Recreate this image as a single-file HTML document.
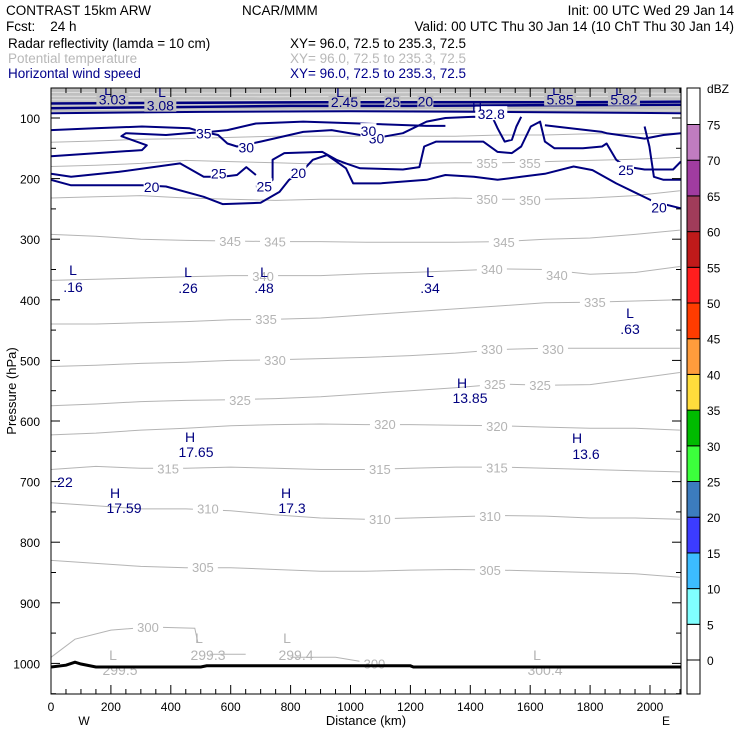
<!DOCTYPE html>
<html><head><meta charset="utf-8"><style>
html,body{margin:0;padding:0;background:#fff}
svg{display:block}
text{font-family:"Liberation Sans",sans-serif}
</style></head><body>
<svg id="chart" width="740" height="740" viewBox="0 0 740 740" xmlns="http://www.w3.org/2000/svg">
<g font-size="13.5">
<text x="6" y="15">CONTRAST 15km ARW</text>
<text x="242" y="15">NCAR/MMM</text>
<text x="734" y="15" text-anchor="end">Init: 00 UTC Wed 29 Jan 14</text>
<text x="6" y="31" xml:space="preserve">Fcst:    24 h</text>
<text x="734" y="31" text-anchor="end">Valid: 00 UTC Thu 30 Jan 14 (10 ChT Thu 30 Jan 14)</text>
<text x="8" y="48">Radar reflectivity (lamda = 10 cm)</text>
<text x="290" y="48">XY=  96.0, 72.5 to 235.3, 72.5</text>
<text x="8" y="63" fill="#b8b8b8">Potential temperature</text>
<text x="290" y="63" fill="#b8b8b8">XY=  96.0, 72.5 to 235.3, 72.5</text>
<text x="8" y="78" fill="#00008b">Horizontal wind speed</text>
<text x="290" y="78" fill="#00008b">XY=  96.0, 72.5 to 235.3, 72.5</text>
</g>
<g id="plot"></g>
<g id="axes"></g>
<g id="cbar"></g>
</svg>
<script>
const NS="http://www.w3.org/2000/svg";
const X0=51,X1=681,Y0=88,Y1=694;
const kmMax=2103,pTop=50.5;
function sx(km){return X0+km*0.2995;}
function sy(p){return 118+(p-100)*0.606;}
const xsKm=[0,150,300,450,600,750,900,1050,1200,1350,1500,1650,1800,1950,2100];
const thetaLevels=[305,310,315,320,325,330,335,340,345,350,355,360];
const theta305=[830,835,840,842,842,845,848,848,846,845,846,848,850,852,858];
const theta310=[735,740,745,745,748,755,760,762,760,758,756,757,760,760,762];
const theta315=[680,675,678,678,676,678,680,680,678,676,676,678,680,682,684];
const theta320=[623,620,615,612,608,606,605,606,606,607,608,610,612,612,615];
const theta325=[575,572,568,566,565,563,560,555,550,545,539,541,540,530,520];
const theta330=[510,508,505,503,500,499,497,495,492,488,482,480,480,480,480];
const theta335=[440,440,438,436,433,432,430,425,420,415,410,405,404,402,400];
const theta340=[368,366,364,362,360,360,360,357,355,352,349,350,358,355,345];
const theta345=[292,295,300,302,303,304,304,305,305,305,304,300,298,292,285];
const theta350=[232,230,228,232,234,236,234,234,234,232,234,234,232,228,220];
const theta355=[180,178,175,170,172,174,176,175,175,174,174,172,170,168,165];
const theta360=[140,138,135,134,132,130,130,130,130,130,128,128,126,126,125];
const thetaSeries=[theta305,theta310,theta315,theta320,theta325,theta330,theta335,theta340,theta345,theta350,theta355,theta360];
const theta300a=[[0,990],[80,960],[200,945],[330,940],[480,942],[490,965]];
const theta300b=[[530,985],[650,985]];
const theta300c=[[800,990],[950,990],[1050,998],[1100,1010]];
const thetaLabels=[["305",507,841],["305",1466,846],["310",524,744],["310",1098,762],["310",1466,757],["315",391,678],["315",1098,679],["315",1489,677],["320",1115,605],["320",1489,608],["325",631,565],["325",1482,539],["325",1633,541],["330",748,499],["330",1472,481],["330",1676,481],["335",718,432],["335",1816,404],["340",708,361],["340",1472,349],["340",1689,359],["345",598,303],["345",748,304],["345",1512,305],["350",1456,234],["350",1599,235],["355",1456,174],["355",1599,174],["300",324,940],["300",1080,1000]];
const wind20=[[0,202],[67,211],[304,211],[384,213],[510,230],[573,242],[700,240],[763,222],[795,202],[842,186],[874,169],[922,161],[953,172],[985,183],[1009,208],[1096,208],[1254,202],[1317,194],[1412,197],[1491,202],[1570,197],[1649,192],[1745,180],[1808,186],[1887,208],[2013,238],[2103,249]];
const wind25a=[[0,192],[67,197],[225,189],[431,175],[510,197],[573,197],[621,194],[652,181],[684,194]];
const wind25b=[[684,213],[716,212],[740,202],[740,169],[779,158],[906,156],[953,169],[985,175],[1032,183],[1175,185],[1230,181],[1246,147],[1286,139],[1443,139],[1491,156],[1539,158],[1570,147],[1602,114],[1633,106],[1649,139],[1681,150],[1776,150],[1840,147],[1855,142],[1887,169],[1919,180],[1982,185],[2077,185],[2103,172]];
const wind25c=[[1982,114],[1998,147],[2013,197],[2045,202],[2103,202]];
const wind30a=[[0,163],[304,153],[320,145],[235,130],[250,125],[384,128],[510,123],[558,128],[589,142],[621,147],[700,139],[842,123],[937,120],[1032,128],[1096,132],[1175,125],[1254,106],[1317,100],[1412,98],[1475,100],[1491,117],[1515,139],[1539,136],[1554,114],[1570,98]];
const wind30b=[[1649,112],[1840,123],[1855,125],[1982,134],[2045,128],[2103,125]];
const wind35=[[0,120],[146,117],[304,114],[463,117],[510,124],[589,120],[684,109],[842,106],[1032,109],[1254,113],[1317,113]];
const windTop1=[[0,76],[500,75],[900,74],[1300,74],[1700,74],[2103,73]];
const windTop2=[[0,84],[400,82],[800,80],[1200,80],[1600,79],[2103,78]];
const windTop3=[[0,92],[500,90],[1000,89],[1500,90],[2103,92]];
const windLabels=[["20",336,212],["20",826,189],["20",2030,246],["25",560,190],["25",712,211],["25",1920,184],["30",652,147],["30",1087,132],["30",1060,120],["35",510,124],["32.8",1470,92],["2.45",980,72],["25",1140,72],["20",1250,71],["3.03",205,68],["3.08",365,78],["5.85",1700,68],["5.82",1913,68]];
const extremaLetters=[["L",73,270],["L",188,272],["L",264,272],["L",430,272],["L",630,313],["H",462,383],["H",190,437],["H",577,438],["H",115,493],["H",286,493],["L",108,90],["L",162,92],["L",340,92],["H",477,106],["L",556,90],["L",619,90]];
const extremaValues=[[".16",73,287],[".26",188,288],[".48",264,288],[".34",430,288],[".63",630,329],["13.85",470,398],["17.65",196,452],["13.6",586,454],[".22",63,482],["17.59",124,508],["17.3",292,508]];
const groundLetters=[["L",113,655],["L",199,638],["L",287,638],["L",537,655]];
const groundValues=[["299.5",120,670],["299.3",208,655],["299.4",296,655],["300.4",545,670]];
const terrainKm=[0,50,80,100,150,500,520,1000,1200,1210,2103];
const terrainP=[1006,1003,998,1001,1006,1006,1004,1004,1004,1006,1006];
const xTicks=[0,200,400,600,800,1000,1200,1400,1600,1800,2000];
const yTicks=[100,200,300,400,500,600,700,800,900,1000];
const cbLevels=[0,5,10,15,20,25,30,35,40,45,50,55,60,65,70,75];
const cbColors=["#ffffff","#80ffff","#3cbcff","#3c3cff","#3c7cbe","#3cff3c","#00bb00","#ffdd3c","#ff9c3c","#ff3c00","#ff1e1e","#c01a1a","#a03c5a","#a03ca0","#c07cc0","#ffffff"];

function el(tag,attrs,parent){const e=document.createElementNS(NS,tag);for(const k in attrs)e.setAttribute(k,attrs[k]);parent.appendChild(e);return e;}
function pathFrom(pts){return pts.map((q,i)=>(i?"L":"M")+sx(Math.min(q[0],kmMax)).toFixed(1)+","+sy(q[1]).toFixed(1)).join(" ");}
const plot=document.getElementById("plot"),axes=document.getElementById("axes"),cbar=document.getElementById("cbar");
const defs=el("defs",{},plot);const cp=el("clipPath",{id:"clip"},defs);el("rect",{x:X0,y:Y0,width:X1-X0,height:Y1-Y0},cp);
const g=el("g",{"clip-path":"url(#clip)"},plot);


const band=el("rect",{x:X0,y:sy(pTop),width:X1-X0,height:sy(90)-sy(pTop),fill:"#c0c0c0"},g);


[58,64,70,78,86].forEach(p=>{const l=el("path",{d:pathFrom([[0,p],[700,p+1],[1400,p],[2103,p+1]]),stroke:"#e6e6e6","stroke-width":0.8,fill:"none"},g);

});
thetaSeries.forEach((arr,i)=>{const pts=arr.map((p,j)=>[xsKm[j],p]);const l=el("path",{d:pathFrom(pts),stroke:"#b4b4b4","stroke-width":1,fill:"none"},g);

});
[theta300a,theta300b,theta300c].forEach(a=>{const l=el("path",{d:pathFrom(a),stroke:"#b4b4b4","stroke-width":1,fill:"none"},g);

});
thetaLabels.forEach(t=>{const r=el("rect",{x:sx(t[1])-15,y:sy(t[2])-7,width:30,height:14,fill:"#fff"},g);


const tx=el("text",{x:sx(t[1]),y:sy(t[2])+5,"text-anchor":"middle","font-size":13,fill:"#b4b4b4"},g);tx.textContent=t[0];

});
[[windTop1,2.5],[windTop2,2.5],[windTop3,2]].forEach(w=>{const l=el("path",{d:pathFrom(w[0]),stroke:"#000080","stroke-width":w[1],fill:"none"},g);

});
[[wind20,"20"],[wind25a,"25"],[wind25b,"25"],[wind25c,"25"],[wind30a,"30"],[wind30b,"30"],[wind35,"35"]].forEach(w=>{const l=el("path",{d:pathFrom(w[0]),stroke:"#000080","stroke-width":2,fill:"none","stroke-linejoin":"round"},g);

});
windLabels.forEach(t=>{const w=t[0].length*8;const r=el("rect",{x:sx(t[1])-w/2,y:sy(t[2])-7,width:w,height:14,fill:t[2]<90?"#c0c0c0":"#fff"},g);


const tx=el("text",{x:sx(t[1]),y:sy(t[2])+6,"text-anchor":"middle","font-size":14,fill:"#000080"},g);tx.textContent=t[0];

});
extremaLetters.concat(extremaValues).forEach(t=>{const tx=el("text",{x:t[1],y:t[2]+5,"text-anchor":"middle","font-size":14,fill:"#000080"},g);tx.textContent=t[0];

});
groundLetters.concat(groundValues).forEach(t=>{const tx=el("text",{x:t[1],y:t[2]+5,"text-anchor":"middle","font-size":14,fill:"#b4b4b4"},g);tx.textContent=t[0];

});
const terr=el("path",{d:pathFrom(terrainKm.map((k,i)=>[k,terrainP[i]])),stroke:"#000","stroke-width":3,fill:"none"},g);


const fr=el("rect",{x:X0,y:Y0,width:X1-X0,height:Y1-Y0,fill:"none",stroke:"#000","stroke-width":1},axes);


for(let k=0;k<=2100;k+=50){const L=k%200===0?9:5;const x=sx(k);
const t1=el("line",{x1:x,y1:Y1,x2:x,y2:Y1-L,stroke:"#000"},axes);
const t2=el("line",{x1:x,y1:Y0,x2:x,y2:Y0+L,stroke:"#000"},axes);}
xTicks.forEach(k=>{const t=el("text",{x:sx(k),y:711,"text-anchor":"middle","font-size":12},axes);t.textContent=k;

});
for(let p=100;p<=1050;p+=50){const L=p%100===0?9:5;const y=sy(p);
const t1=el("line",{x1:X0,y1:y,x2:X0+L,y2:y,stroke:"#000"},axes);
const t2=el("line",{x1:X1,y1:y,x2:X1-L,y2:y,stroke:"#000"},axes);}
yTicks.forEach(p=>{const t=el("text",{x:40,y:sy(p)+5,"text-anchor":"end","font-size":12},axes);t.textContent=p;

});
const xt=el("text",{x:366,y:725,"text-anchor":"middle","font-size":13},axes);xt.textContent="Distance (km)";


const wl=el("text",{x:84,y:725,"text-anchor":"middle","font-size":12},axes);wl.textContent="W";


const elb=el("text",{x:666,y:725,"text-anchor":"middle","font-size":12},axes);elb.textContent="E";


const yt=el("text",{x:0,y:0,"text-anchor":"middle","font-size":13,transform:"translate(16,391) rotate(-90)"},axes);yt.textContent="Pressure (hPa)";


const CB0=687,CBW=13,cbStep=35.7,cbZero=660;
function cy(v){return cbZero-v/5*cbStep;}
const bot=el("rect",{x:CB0,y:cbZero,width:CBW,height:Y1-cbZero,fill:"#fff",stroke:"#000"},cbar);


cbLevels.forEach((v,i)=>{const top=i===cbLevels.length-1?Y0:cy(v+5);const r=el("rect",{x:CB0,y:top,width:CBW,height:cy(v)-top,fill:cbColors[i],stroke:"#000"},cbar);


const t=el("text",{x:707,y:cy(v)+5,"font-size":12},cbar);t.textContent=v;

});
const u=el("text",{x:707,y:93,"font-size":12},cbar);u.textContent="dBZ";


</script>
</body></html>
